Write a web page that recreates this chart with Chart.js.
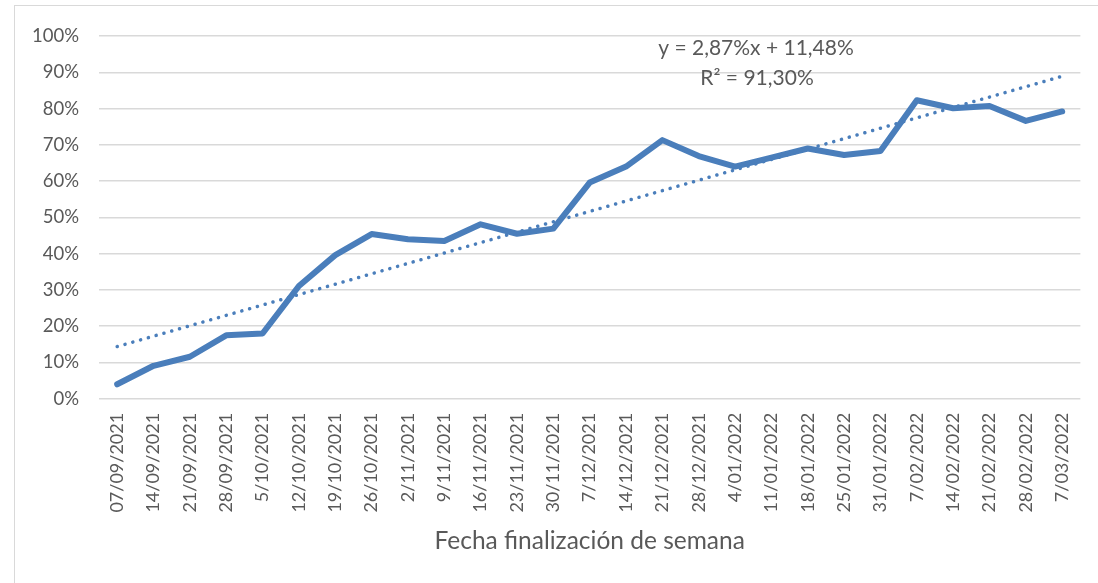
<!DOCTYPE html>
<html>
<head>
<meta charset="utf-8">
<script src="https://cdn.jsdelivr.net/npm/chart.js@4"></script>
<style>
    html, body { margin: 0; padding: 0; background: #fff; }
    #wrap { position: relative; width: 1098px; height: 583px; overflow: hidden; }
    #frame { position: absolute; left: 14px; top: 5px; width: 1100px; height: 600px; border: 1.5px solid #d9d9d9; box-sizing: border-box; }
    #chart { position: absolute; left: 0; top: 0; }
</style>
</head>
<body>
<div id="wrap">
    <div id="frame"></div>
    <canvas id="chart" width="1098" height="583"></canvas>
</div>
<script>
const weeks = [
    '07/09/2021', '14/09/2021', '21/09/2021', '28/09/2021', '5/10/2021', '12/10/2021',
    '19/10/2021', '26/10/2021', '2/11/2021', '9/11/2021', '16/11/2021', '23/11/2021',
    '30/11/2021', '7/12/2021', '14/12/2021', '21/12/2021', '28/12/2021', '4/01/2022',
    '11/01/2022', '18/01/2022', '25/01/2022', '31/01/2022', '7/02/2022', '14/02/2022',
    '21/02/2022', '28/02/2022', '7/03/2022'
];
const weeklyPct = [
    4.0, 9.1, 11.6, 17.5, 18.0, 31.1, 39.6, 45.4, 44.0, 43.5, 48.1, 45.5, 46.9, 59.6,
    64.0, 71.3, 66.9, 64.0, 66.5, 69.0, 67.2, 68.3, 82.3, 80.1, 80.7, 76.6, 79.2
];
// trendline end points (linear, drawn between first and last week)
const trendStart = 14.4;
const trendEnd = 88.9;
const trendText = ['y = 2,87%x + 11,48%', 'R\u00b2 = 91,30%'];
const yTicks = [0, 10, 20, 30, 40, 50, 60, 70, 80, 90, 100];

const trendPct = weeks.map((w, i) => i === 0 ? trendStart : (i === weeks.length - 1 ? trendEnd : null));

const lineBlue = '#4a7ebb';
const textGray = '#595959';

const trendLabel = {
    id: 'trendLabel',
    afterDraw(chart) {
        const ctx = chart.ctx;
        ctx.save();
        ctx.fillStyle = textGray;
        ctx.font = "21px Lato";
        ctx.textAlign = 'center';
        ctx.textBaseline = 'middle';
        ctx.fillText(trendText[0], 756, 48);
        ctx.fillText(trendText[1], 757, 78);
        ctx.restore();
    }
};

new Chart(document.getElementById('chart'), {
    type: 'line',
    data: {
        labels: weeks,
        datasets: [
            {
                label: 'Semana',
                data: weeklyPct,
                borderColor: lineBlue,
                borderWidth: 6,
                pointRadius: 0,
                borderCapStyle: 'round',
                borderJoinStyle: 'round',
                tension: 0,
                order: 2
            },
            {
                label: 'Tendencia',
                data: trendPct,
                spanGaps: true,
                borderColor: lineBlue,
                borderWidth: 3.5,
                borderDash: [0.1, 8],
                borderCapStyle: 'round',
                pointRadius: 0,
                order: 1
            }
        ]
    },
    options: {
        responsive: false,
        animation: false,
        events: [],
        layout: { padding: { top: 36, right: 11, bottom: 27, left: 0 } },
        plugins: {
            legend: { display: false },
            tooltip: { enabled: false }
        },
        scales: {
            x: {
                offset: true,
                grid: { display: false, drawTicks: false },
                border: { display: false },
                ticks: {
                    color: textGray,
                    font: { family: 'Lato', size: 18 },
                    minRotation: 90,
                    maxRotation: 90,
                    autoSkip: false,
                    padding: 14
                },
                title: {
                    display: true,
                    text: 'Fecha finalización de semana',
                    color: textGray,
                    font: { family: 'Lato', size: 24.5 },
                    padding: { top: 0, bottom: 0 }
                }
            },
            y: {
                min: 0,
                max: 100,
                afterFit(scale) { scale.width = 99; },
                afterBuildTicks(scale) { scale.ticks = yTicks.map(v => ({ value: v })); },
                grid: { color: '#d9d9d9', lineWidth: 1.5, drawTicks: false },
                border: { display: false },
                ticks: {
                    color: textGray,
                    font: { family: 'Lato', size: 18.5 },
                    padding: 20,
                    callback: v => v + '%'
                }
            }
        }
    },
    plugins: [trendLabel]
});
</script>
</body>
</html>
